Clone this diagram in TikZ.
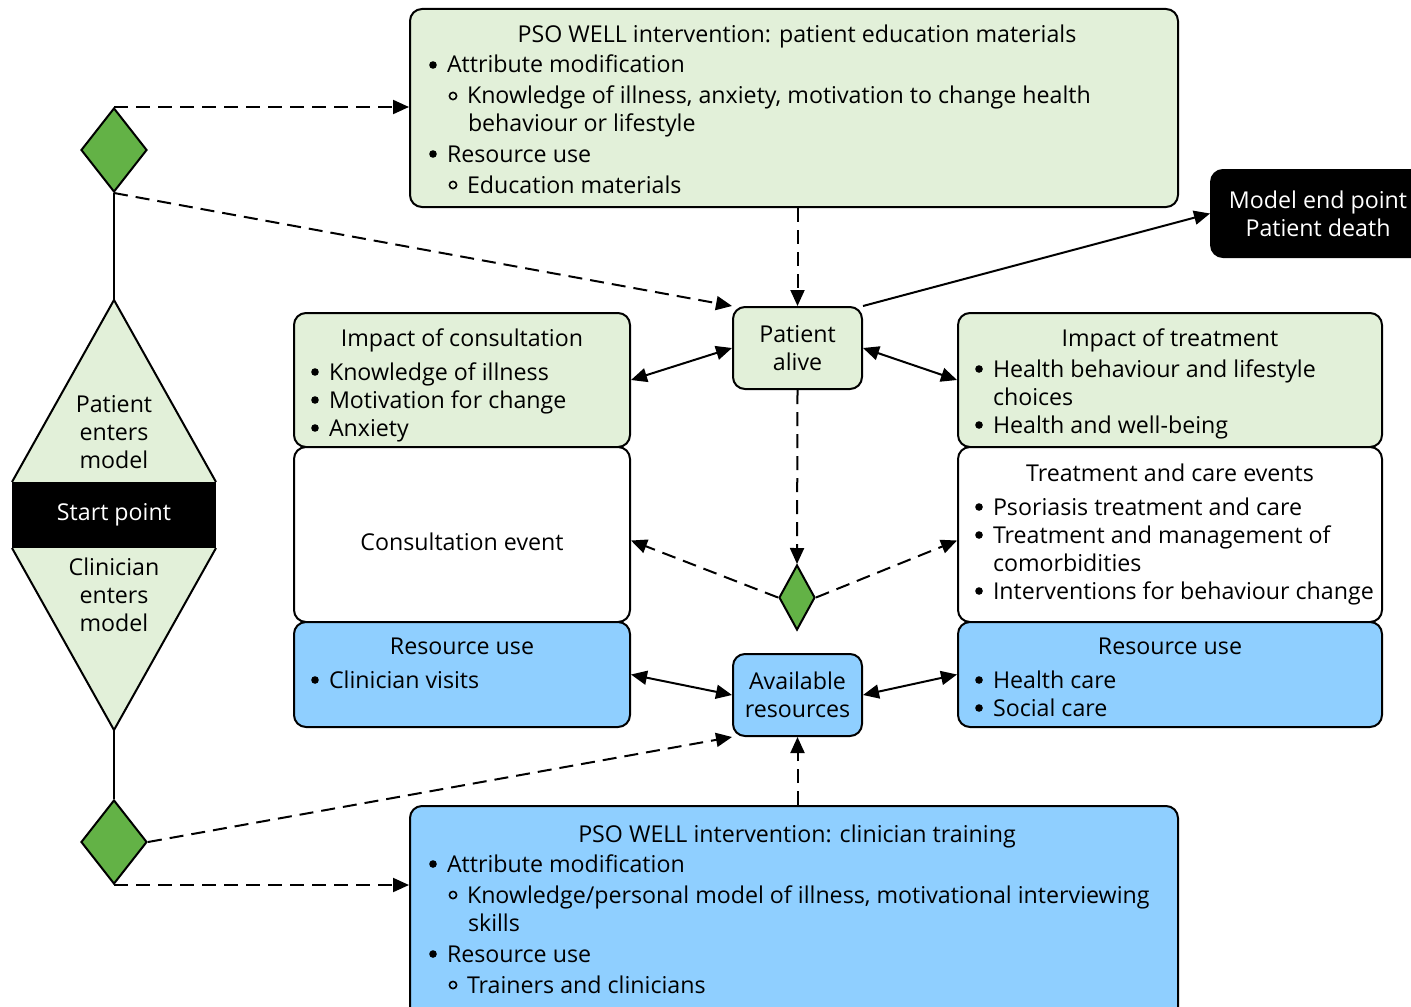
\documentclass[tikz,border=0pt]{standalone}
\usepackage{fontspec}
\setmainfont{Open Sans}
\usepackage{tikz}
\usetikzlibrary{arrows.meta, shapes.geometric, fit}
\definecolor{litegreen}{RGB}{226,240,217}
\definecolor{darkgreen}{RGB}{99,178,70}
\definecolor{liteblue}{RGB}{143,207,255}
% bullet, open sub-bullet and continued line inside the boxes
\newcommand{\blt}[3]{\fill (#1,#2) circle (1.9pt);
  \node[txt] at ({#1+13},{#2+8}) {#3};}
\newcommand{\sblt}[3]{\draw[line width=0.8pt] (#1,#2) circle (1.8pt);
  \node[txt] at ({#1+13},{#2+8}) {#3};}
\newcommand{\cont}[3]{\node[txt] at (#1,{#2+8}) {#3};}

\begin{document}
\begin{tikzpicture}[x=0.5pt, y=-0.5pt, line width=1pt, font=\fontsize{11.6}{14}\selectfont]
\tikzstyle{gbox}=[draw, fill=litegreen, rounded corners=6pt, inner sep=0pt]
\tikzstyle{bbox}=[draw, fill=liteblue, rounded corners=6pt, inner sep=0pt]
\tikzstyle{wbox}=[draw, fill=white, rounded corners=6pt, inner sep=0pt]
\tikzstyle{gdiam}=[diamond, draw, fill=darkgreen, inner sep=0pt]
\tikzstyle{txt}=[anchor=base west, inner sep=0pt]
\tikzstyle{ttl}=[anchor=base, inner sep=0pt]
\tikzstyle{dashln}=[dash pattern=on 7pt off 4pt]
\tikzstyle{arr}=[-{Triangle[length=8pt, width=7pt]}]
\tikzstyle{darr}=[{Triangle[length=8pt, width=7pt]}-{Triangle[length=8pt, width=7pt]}]
\useasboundingbox (0,0) rectangle (1411,1006);

% boxes
\node[gbox, fit={(410,9) (1178,207)}] (edu) {};
\node[bbox, fit={(410,806) (1178,1030)}] (train) {};
\node[gbox, minimum width=64.5pt, minimum height=41pt, align=center] (alive) at (797.5,348) {Patient\\alive};
\node[bbox, minimum width=64.5pt, minimum height=41pt, align=center] (avail) at (797.5,695) {Available\\resources};
\node[draw, fill=black, text=white, rounded corners=6pt, minimum width=107pt, minimum height=43.5pt, align=center] (endpt) at (1318,213.5) {Model end point\\Patient death};
\node[gbox, fit={(294,313) (630,447)}] (impc) {};
\node[wbox, fit={(294,447) (630,622)}] (consult) {};
\node[bbox, fit={(294,622) (630,727)}] (resl) {};
\node[gbox, fit={(958,313) (1382,447)}] (impt) {};
\node[wbox, fit={(958,447) (1382,622)}] (treat) {};
\node[bbox, fit={(958,622) (1382,727)}] (resr) {};

% start point
\fill[litegreen] (114,300) -- (216,482) -- (12,482) -- cycle;
\fill[litegreen] (114,730) -- (216,548) -- (12,548) -- cycle;
\draw (12,482) -- (114,300) -- (216,482);
\draw (12,548) -- (114,730) -- (216,548);
\fill[black] (12,482) rectangle (216,548);
\coordinate (stop) at (114,300);
\coordinate (sbot) at (114,730);
\node[align=center] (pent) at (114,432) {Patient\\enters\\model};
\node[text=white] (start) at (114,515) {Start point};
\node[align=center] (cent) at (114,595) {Clinician\\enters\\model};

% decision points
\node[gdiam, minimum width=33pt, minimum height=42pt] (dtop) at (114,150) {};
\node[gdiam, minimum width=33pt, minimum height=42pt] (dbot) at (114,842) {};
\node[gdiam, minimum width=18pt, minimum height=32.5pt] (dmid) at (797,597.5) {};

% texts
\node[ttl] (edut) at (797,43) {PSO WELL intervention: patient education materials};
\blt{433}{65}{Attribute modification}
\sblt{453}{96}{Knowledge of illness, anxiety, motivation to change health}
\cont{467}{124}{behaviour or lifestyle}
\blt{433}{154}{Resource use}
\sblt{453}{185}{Education materials}

\node[ttl] (traint) at (797,842) {PSO WELL intervention: clinician training};
\blt{433}{864}{Attribute modification}
\sblt{453}{895}{Knowledge/personal model of illness, motivational interviewing}
\cont{467}{923}{skills}
\blt{433}{954}{Resource use}
\sblt{453}{985}{Trainers and clinicians}

\node[ttl] (impct) at (462,346) {Impact of consultation};
\blt{315}{372}{Knowledge of illness}
\blt{315}{400}{Motivation for change}
\blt{315}{428}{Anxiety}
\node (consultt) at (462,542) {Consultation event};
\node[ttl] (reslt) at (462,654) {Resource use};
\blt{315}{680}{Clinician visits}

\node[ttl] (imptt) at (1170,346) {Impact of treatment};
\blt{979}{369}{Health behaviour and lifestyle}
\cont{992}{397}{choices}
\blt{979}{425}{Health and well-being}
\node[ttl] (treatt) at (1170,481) {Treatment and care events};
\blt{979}{507}{Psoriasis treatment and care}
\blt{979}{535}{Treatment and management of}
\cont{992}{563}{comorbidities}
\blt{979}{591}{Interventions for behaviour change}
\node[ttl] (resrt) at (1170,654) {Resource use};
\blt{979}{680}{Health care}
\blt{979}{708}{Social care}

% connectors
\draw (dtop.south) -- (stop);
\draw (sbot) -- (dbot.north);
\draw[dashln, arr] (dtop.north) -- (dtop.north -| edu.west);
\draw[dashln, arr] (dtop.south) -- (alive.north west);
\draw[dashln, arr] (dbot.south) -- (dbot.south -| train.west);
\draw[dashln, arr] (dbot.east) -- (avail.south west);
\draw[dashln, arr] (alive.north |- edu.south) -- (alive.north);
\draw[dashln, arr] (avail.south |- train.north) -- (avail.south);
\draw[arr] (alive.north east) -- (endpt.west);
\draw[darr] (impc.east) -- (alive.west);
\draw[darr] (alive.east) -- (impt.west);
\draw[darr] (resl.east) -- (avail.west);
\draw[darr] (avail.east) -- (resr.west);
\draw[dashln, arr] (alive.south) -- (dmid.north);
\draw[dashln, arr] (dmid.west) -- ([yshift=-3pt]consult.east);
\draw[dashln, arr] (dmid.east) -- ([yshift=-3pt]treat.west);
\end{tikzpicture}
\end{document}
